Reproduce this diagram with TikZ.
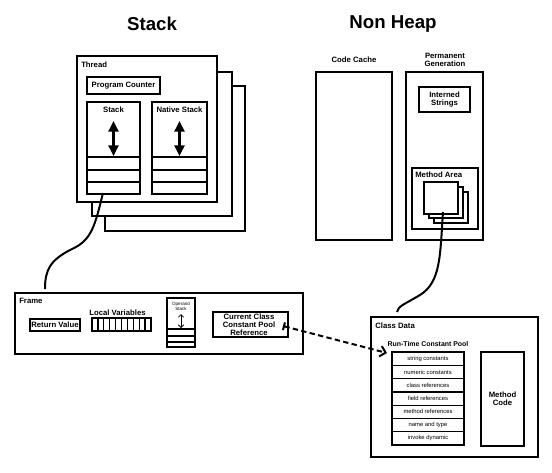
\documentclass[tikz,border=0pt]{standalone}
\usepackage{fontspec}
\setmainfont{Liberation Sans}
\usetikzlibrary{arrows.meta}

\begin{document}
\begin{tikzpicture}[x=0.75pt,y=-0.75pt,
  box/.style={draw,line width=1.3pt,fill=white},
  cell/.style={draw,line width=1pt},
  lbl/.style={font=\bfseries\fontsize{5.8}{6}\selectfont,inner sep=0pt,align=center},
  small/.style={font=\fontsize{4.4}{5}\selectfont,inner sep=0pt},
  tiny/.style={font=\fontsize{3.4}{3.8}\selectfont,inner sep=0pt,align=center},
  title/.style={font=\bfseries\fontsize{14}{16}\selectfont,inner sep=0pt},
  wire/.style={line width=1.5pt},
  updown/.style={line width=1.8pt,{Triangle[width=7.5pt,length=8pt]}-{Triangle[width=7.5pt,length=8pt]}}]
\useasboundingbox (0,0) rectangle (552,472);

\node [title] (t-stack) at (152,24) {Stack};
\node [title] (t-nonheap) at (393,24) {Non Heap};

% thread
\draw [box] (105,86) rectangle (245,231);
\draw [box] (92,72) rectangle (232,216);
\draw [box] (77,56) rectangle (217,202);
\node [lbl,anchor=west] (thread) at (81,65) {Thread};
\draw [box] (87,77) rectangle (160,94);
\node [lbl] (pc) at (123.5,85.5) {Program Counter};
\draw [box] (87,102) rectangle (140,194);
\draw [box] (152,102) rectangle (207,194);
\foreach \y in {157,170,182} {
  \draw [box] (87,\y) -- (140,\y);
  \draw [box] (152,\y) -- (207,\y);
}
\node [lbl] (stack) at (113.5,110) {Stack};
\node [lbl] (native) at (179.5,110) {Native Stack};
\draw [updown] (113.5,121) -- (113.5,156);
\draw [updown] (179.5,121) -- (179.5,156);

% non heap
\node [lbl] (codecache) at (354,60) {Code Cache};
\draw [box] (316,72) rectangle (392,240);
\node [lbl] (permgen) at (445,60) {Permanent\\Generation};
\draw [box] (406,72) rectangle (483,240);
\draw [box] (419,87) rectangle (470,112);
\node [lbl] (interned) at (444.5,99.5) {Interned\\Strings};
\draw [box] (412,168) rectangle (478,229);
\node [lbl,anchor=west] (methodarea) at (415,175) {Method Area};
\draw [box] (434,192) rectangle (468,223);
\draw [box] (429,187) rectangle (463,218);
\draw [box] (424,182) rectangle (458,214);

% frame
\draw [box] (15,293) rectangle (303,354);
\node [lbl,anchor=west] (frame) at (19,301) {Frame};
\draw [box] (30,319) rectangle (80,331);
\node [lbl] (retval) at (55,325) {Return Value};
\node [lbl] (localvars) at (117.5,313) {Local Variables};
\draw [box] (92,318) rectangle (151,331);
\foreach \i in {1,...,9}
  \draw [cell] ({92+\i*5.9},318) -- ({92+\i*5.9},331);
\draw [box] (167,298) rectangle (195,347);
\foreach \y in {329,336,342}
  \draw [cell] (167,\y) -- (195,\y);
\node [tiny] (operand) at (181,306) {Operand\\Stack};
\draw [line width=0.6pt,{Straight Barb[length=2pt,width=4pt]}-{Straight Barb[length=2pt,width=4pt]}] (181,314) -- (181,328);
\draw [box] (213,312) rectangle (288,337);
\node [lbl] (ccref) at (249,324.5) {Current Class\\Constant Pool\\Reference};

% class data
\draw [box] (371,317) rectangle (538,457);
\node [lbl,anchor=west] (classdata) at (375,326) {Class Data};
\node [lbl,font=\bfseries\fontsize{5.2}{6}\selectfont] (rtcp) at (428,344) {Run-Time Constant Pool};
\foreach \txt [count=\i from 0] in {string constants,numeric constants,class references,field references,method references,name and type,invoke dynamic} {
  \draw [cell] (392,{352+\i*13.3}) rectangle (464,{352+(\i+1)*13.3});
  \node [small] (pool-\i) at (428,{352+(\i+0.5)*13.3}) {\txt};
}
\draw [box] (481,352) rectangle (524,446);
\node [lbl] (methodcode) at (502.5,399) {Method\\Code};

% links
\coordinate (stack-out) at (103,193);
\coordinate (frame-in) at (45,289);
\draw [wire] (stack-out) .. controls (95,225) and (92,240) .. (72,249) .. controls (50,260) and (45,270) .. (frame-in);
\coordinate (ma-out) at (443,212);
\coordinate (cd-in) at (397,312);
\draw [wire] (ma-out) .. controls (440,255) and (441,282) .. (420,295) .. controls (405,304) and (398,306) .. (cd-in);
\coordinate (ccr-out) at (283,326);
\coordinate (rtcp-in) at (387,353);
\draw [wire,dash pattern=on 4pt off 2.5pt,{Bar[width=6pt]}-{Straight Barb[length=4pt,width=8pt]}] (ccr-out) -- (rtcp-in);
\end{tikzpicture}
\end{document}
